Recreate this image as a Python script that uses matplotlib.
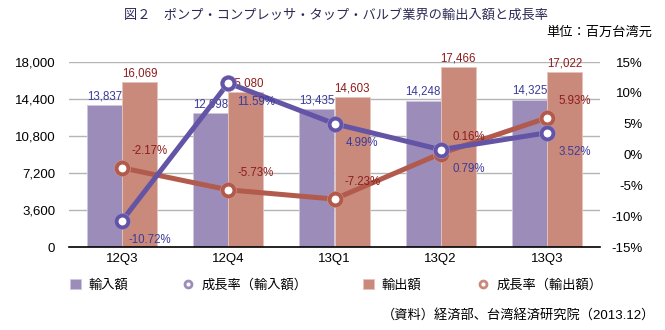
import matplotlib
matplotlib.use('Agg')
import matplotlib.pyplot as plt
import numpy as np
from matplotlib.lines import Line2D

plt.rcParams['font.family'] = ['Liberation Sans', 'Noto Sans CJK JP']

# data
quarters = ['12Q3', '12Q4', '13Q1', '13Q2', '13Q3']
imports = [13837, 12998, 13435, 14248, 14325]
exports = [16069, 15080, 14603, 17466, 17022]
imp_growth = [-10.72, 11.59, 4.99, 0.79, 3.52]
exp_growth = [-2.17, -5.73, -7.23, 0.16, 5.93]

left_ticks = [0, 3600, 7200, 10800, 14400, 18000]
right_ticks = [-15, -10, -5, 0, 5, 10, 15]

c_imp_bar = '#9b8cba'
c_exp_bar = '#c98a7b'
c_imp_line = '#6454a6'
c_exp_line = '#b25a4c'
c_imp_txt = '#3b3b9b'
c_exp_txt = '#8e1c1c'

fig = plt.figure(figsize=(6.65, 3.3), dpi=100)
ax = fig.add_axes([69/665, 1-247/330, (600-69)/665, (247-62)/330])

x = np.arange(len(quarters))
w = 0.33
b1 = ax.bar(x - w/2, imports, w, color=c_imp_bar, edgecolor='#cfc6e0', linewidth=0.6)
b2 = ax.bar(x + w/2, exports, w, color=c_exp_bar, edgecolor='#e6c3ba', linewidth=0.6)
ax.bar_label(b1, labels=[f'{v:,}' for v in imports], padding=2, color=c_imp_txt, fontsize=8.3)
ax.bar_label(b2, labels=[f'{v:,}' for v in exports], padding=2, color=c_exp_txt, fontsize=8.3)

ax.set_xlim(-0.5, len(quarters) - 0.5)
ax.set_ylim(0, 18000)
ax.set_xticks(x)
ax.set_xticklabels(quarters)
ax.set_yticks(left_ticks)
ax.set_yticklabels([f'{v:,}' for v in left_ticks])
ax.grid(axis='y', color='#b5b5b5', lw=1)
ax.set_axisbelow(True)
for s in ['top', 'left', 'right']:
    ax.spines[s].set_visible(False)
ax.spines['bottom'].set_linewidth(1.2)
ax.tick_params(length=0, labelsize=9.5)
ax.tick_params(axis='y', pad=10)
ax.tick_params(axis='x', pad=4)

ax2 = ax.twinx()
ax2.set_ylim(-15, 15)
ax2.set_yticks(right_ticks)
ax2.set_yticklabels([f'{v}%' for v in right_ticks], ha='right')
ax2.tick_params(length=0, labelsize=9.5, pad=31)
for s in ax2.spines.values():
    s.set_visible(False)

# growth lines: light halo under each marker, then line with ringed markers
for vals, col, halo in [(exp_growth, c_exp_line, '#d49a8e'), (imp_growth, c_imp_line, '#a69ad0')]:
    ax2.plot(x, vals, color=col, lw=3.6, solid_capstyle='round')
    ax2.plot(x, vals, ls='none', marker='o', ms=12, mfc=halo, mec='none')
    ax2.plot(x, vals, ls='none', marker='o', ms=8.5, mfc='white', mec=col, mew=2.8)

for xi, v in zip(x, imp_growth):
    ax2.annotate(f'{v:.2f}%', (xi, v), xytext=(20, -14), textcoords='offset points',
                 ha='center', va='center', fontsize=8.3, color=c_imp_txt)
for xi, v in zip(x, exp_growth):
    ax2.annotate(f'{v:.2f}%', (xi, v), xytext=(20, 12), textcoords='offset points',
                 ha='center', va='center', fontsize=8.3, color=c_exp_txt)

# texts
fig.text(336/665, 1-15/330, '図２　ポンプ・コンプレッサ・タップ・バルブ業界の輸出入額と成長率',
         ha='center', va='center', fontsize=9.5, color='#2a2a55')
fig.text(652/665, 1-33/330, '単位：百万台湾元', ha='right', va='center', fontsize=9.5)
fig.text(655/665, 1-315/330, '（資料）経済部、台湾経済研究院（2013.12）',
         ha='right', va='center', fontsize=9.5)

# legend
imp_mark = Line2D([], [], ls='none', marker='o', ms=5, mfc='white', mec=c_imp_bar, mew=2)
exp_mark = Line2D([], [], ls='none', marker='o', ms=5, mfc='white', mec=c_exp_bar, mew=2)
entries = [(b1, '輸入額', 70), (imp_mark, '成長率（輸入額）', 183),
           (b2, '輸出額', 363), (exp_mark, '成長率（輸出額）', 478)]
for h, lab, xp in entries:
    fig.legend(handles=[h], labels=[lab], loc='center left',
               bbox_to_anchor=(xp/665, 1-285/330), frameon=False, fontsize=9.5,
               handlelength=0.8, handleheight=0.8, handletextpad=0.6,
               borderpad=0, borderaxespad=0)

fig.savefig('out.png', dpi=100)
